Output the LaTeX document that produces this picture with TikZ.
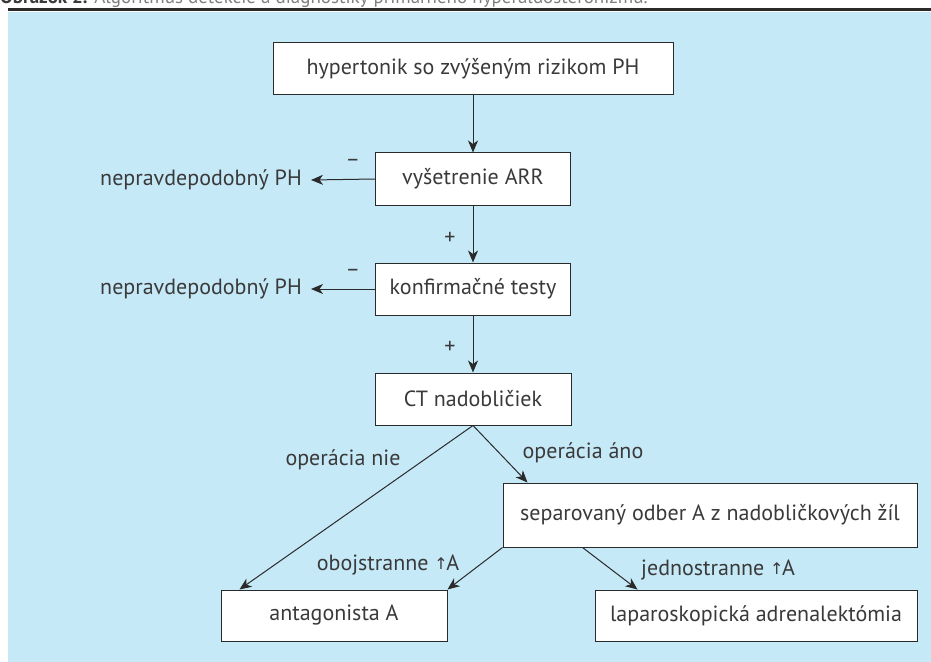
\documentclass[tikz,border=0pt]{standalone}
\usepackage{fontspec}
\setmainfont{PT Sans}
\newfontfamily\arrfont{DejaVu Sans}
\usetikzlibrary{arrows.meta}
\definecolor{bg}{HTML}{C6E9F8}
\definecolor{txt}{HTML}{3A3A3A}
\definecolor{rule}{HTML}{2A2A2A}
\newcommand{\upA}{{\arrfont\fontsize{16bp}{16bp}\selectfont\raisebox{1bp}{↑}}\kern-1.5bp A}
\begin{document}
\begin{tikzpicture}[x=1bp,y=-1bp,
  font=\fontsize{22bp}{26bp}\selectfont,
  every node/.style={text=txt},
  box/.style={draw=rule, fill=white, line width=1bp, minimum height=52bp, inner sep=0pt},
  lbl/.style={inner sep=0pt},
  arr/.style={draw=rule, line width=1bp, -{Stealth[length=12bp,width=10bp,inset=3.5bp]}}]
\useasboundingbox (0,0) rectangle (931,662);
\fill[bg] (8,12) rectangle (931,662);
\fill[rule] (8,8) rectangle (931,11.5);
\node[anchor=base west, inner sep=0pt, font=\fontsize{19bp}{21bp}\selectfont] (title) at (0,4)
  {\textbf{Obrázok 2.} \textcolor{gray}{Algoritmus detekcie a diagnostiky primárneho hyperaldosteronizmu.}};
% boxes
\node[box, minimum width=400bp] (b1) at (473,68.5) {hypertonik so zvýšeným rizikom PH};
\node[box, minimum width=195bp] (b2) at (473,179) {vyšetrenie ARR};
\node[box, minimum width=195bp] (b3) at (473,289) {konfirmačné testy};
\node[box, minimum width=196bp] (b4) at (473,399) {CT nadobličiek};
\node[box, minimum width=414bp, minimum height=64bp] (sep) at (710,515) {separovaný odber A z nadobličkových žíl};
\node[box, minimum width=226bp, minimum height=51bp] (ant) at (334,615.5) {antagonista A};
\node[box, minimum width=322bp, minimum height=51bp] (lap) at (756,615.5) {laparoskopická adrenalektómia};
% outcome texts
\node[lbl, anchor=east, inner xsep=9bp] (n1) at (311,180) {nepravdepodobný PH};
\node[lbl, anchor=east, inner xsep=9bp] (n2) at (311,289) {nepravdepodobný PH};
% arrows
\draw[arr] (b1) -- (b2);
\draw[arr] (b2) -- (b3);
\draw[arr] (b3) -- (b4);
\draw[arr] (b2.west) -- (n1.east);
\draw[arr] (b3.west) -- (n2.east);
\draw[arr] (b4.south) -- ([xshift=19bp]ant.north west);
\draw[arr] (b4.south) -- ([xshift=25bp]sep.north west);
\draw[arr] (sep.south west) -- (ant.north east);
\draw[arr] ([xshift=80bp]sep.south west) -- ([xshift=43bp]lap.north west);
% labels
\node[lbl] (p1) at (450,238) {+};
\node[lbl] (p2) at (450,347) {+};
\node[lbl] (m1) at (353,163) {–};
\node[lbl] (m2) at (353,273) {–};
\node[lbl] (on) at (343,460) {operácia nie};
\node[lbl] (oa) at (583,453) {operácia áno};
\node[lbl] (ob) at (388,565) {obojstranne \upA};
\node[lbl, anchor=west] (jd) at (641,570) {jednostranne \upA};
\end{tikzpicture}
\end{document}
